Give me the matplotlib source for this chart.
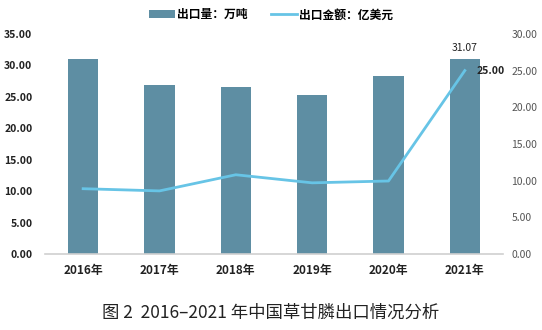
import matplotlib
matplotlib.use("Agg")
import matplotlib.pyplot as plt
from matplotlib.ticker import FixedLocator, FormatStrFormatter

plt.rcParams['font.family'] = ['Noto Sans CJK SC', 'DejaVu Sans']

years = ["2016年", "2017年", "2018年", "2019年", "2020年", "2021年"]
export_volume = [31.0, 26.8, 26.6, 25.25, 28.3, 31.07]   # 万吨
export_value = [8.9, 8.6, 10.8, 9.7, 9.95, 25.00]        # 亿美元
left_ticks = [0, 5, 10, 15, 20, 25, 30, 35]
right_ticks = [0, 5, 10, 15, 20, 25, 30]

bar_color = "#5E8EA3"
line_color = "#67C4E6"

fig = plt.figure(figsize=(5.42, 3.30), dpi=100)
ax = fig.add_axes([0.083, 0.2303, 0.845, 0.667])
ax2 = ax.twinx()

x = list(range(len(years)))
bars = ax.bar(x, export_volume, width=0.4, color=bar_color, zorder=2,
              label="出口量：万吨")
line, = ax2.plot(x, export_value, color=line_color, lw=2.0, zorder=3,
                 label="出口金额：亿美元")

ax.set_xlim(-0.5, len(years) - 0.5)
ax.set_ylim(0, 35)
ax2.set_ylim(0, 30)
ax.yaxis.set_major_locator(FixedLocator(left_ticks))
ax2.yaxis.set_major_locator(FixedLocator(right_ticks))
ax.yaxis.set_major_formatter(FormatStrFormatter("%.2f"))
ax2.yaxis.set_major_formatter(FormatStrFormatter("%.2f"))

ax.set_xticks(x)
ax.set_xticklabels(years, fontsize=8.5, fontweight="bold", color="#222222")

for a in (ax, ax2):
    for s in a.spines.values():
        s.set_visible(False)
    a.tick_params(length=0)
ax.spines["bottom"].set_visible(True)
ax.spines["bottom"].set_color("#d0d0d0")
ax.spines["bottom"].set_linewidth(1.2)

ax.tick_params(axis="y", labelsize=7.5, labelcolor="#222222", pad=9)
for t in ax.get_yticklabels():
    t.set_fontweight("bold")
ax2.tick_params(axis="y", labelsize=7.5, labelcolor="#555555", pad=6)
ax.tick_params(axis="x", pad=7)

# data labels for 2021
ax.text(x[-1], export_volume[-1] + 0.9, f"{export_volume[-1]:.2f}",
        ha="center", va="bottom", fontsize=7.5, color="#222222")
ax2.text(x[-1] + 0.15, export_value[-1], f"{export_value[-1]:.2f}",
         ha="left", va="center", fontsize=7.5, fontweight="bold", color="#222222")

fig.legend(handles=[bars, line], loc="center", bbox_to_anchor=(0.5, 0.955),
           ncol=2, frameon=False, handlelength=2.2,
           columnspacing=2.0, handletextpad=0.2, prop={"weight": "bold", "size": 8.5})

fig.text(0.5, 0.052, "图 2  2016–2021 年中国草甘膦出口情况分析",
         ha="center", va="center", fontsize=12.5, color="#222222")

fig.savefig("out.png", dpi=100)
